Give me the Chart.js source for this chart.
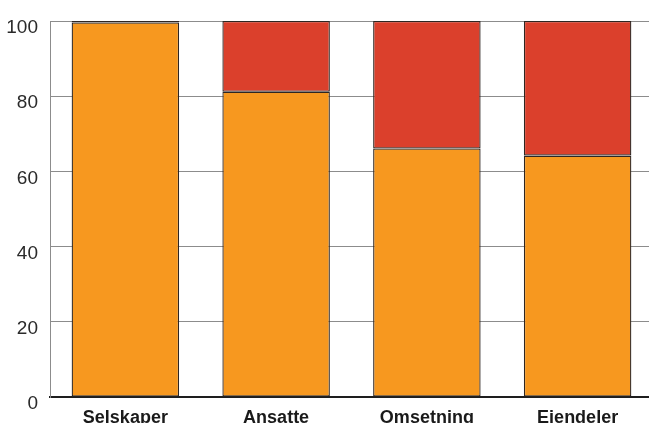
<!DOCTYPE html>
<html>
<head>
<meta charset="utf-8">
<script src="https://cdn.jsdelivr.net/npm/chart.js@4.4.1/dist/chart.umd.min.js"></script>
<style>
  html, body { margin: 0; padding: 0; background: #fff; overflow: hidden; }
  #wrap { width: 653px; height: 423px; }
</style>
</head>
<body>
<div id="wrap"><canvas id="c" width="653" height="423"></canvas></div>
<script>
// Shares per category (percent, stacked to 100)
const categories = ['Selskaper', 'Ansatte', 'Omsetning', 'Eiendeler'];
const orangeShare = [99.6, 81.2, 66.1, 64.2];
const redShare = [0.4, 18.8, 33.9, 35.8];
const yTicks = [0, 20, 40, 60, 80, 100];

const FONT = '"Liberation Sans Narrow", "Arial Narrow", "Liberation Sans", sans-serif';
const EDGE = '#2e2622';

new Chart(document.getElementById('c'), {
  type: 'bar',
  data: {
    labels: categories,
    datasets: [
      {
        data: orangeShare,
        backgroundColor: '#F7981F',
        borderColor: EDGE,
        borderWidth: 1.3,
        borderSkipped: false
      },
      {
        data: redShare,
        backgroundColor: '#DB402C',
        borderColor: EDGE,
        borderWidth: 1.3,
        borderSkipped: false
      }
    ]
  },
  options: {
    responsive: false,
    animation: false,
    events: [],
    layout: { padding: { top: 21, left: 0, right: 0, bottom: 0 } },
    plugins: { legend: { display: false }, tooltip: { enabled: false }, title: { display: false } },
    datasets: { bar: { barPercentage: 0.713, categoryPercentage: 1 } },
    scales: {
      x: {
        stacked: true,
        grid: { display: false, drawTicks: false },
        border: { display: true, color: '#1e1e1e', width: 2 },
        ticks: {
          color: '#1a1a1a',
          padding: 10,
          font: { family: FONT, size: 18, weight: 'bold' }
        },
        afterFit(scale) { scale.height = 26; scale.paddingLeft = 0; scale.paddingRight = 0; }
      },
      y: {
        stacked: true,
        min: 0,
        max: 100,
        afterBuildTicks(scale) { scale.ticks = yTicks.map(v => ({ value: v })); },
        grid: {
          color: ctx => (ctx.tick && ctx.tick.value === 0 ? 'rgba(0,0,0,0)' : '#8c8c8c'),
          lineWidth: 1,
          drawTicks: false
        },
        border: { display: true, color: '#8c8c8c', width: 1 },
        ticks: {
          color: '#2a2a2a',
          padding: 12,
          labelOffset: 7,
          font: { family: FONT, size: 19 }
        },
        afterFit(scale) { scale.width = 50; scale.paddingTop = 0; scale.paddingBottom = 0; }
      }
    }
  }
});
</script>
</body>
</html>
